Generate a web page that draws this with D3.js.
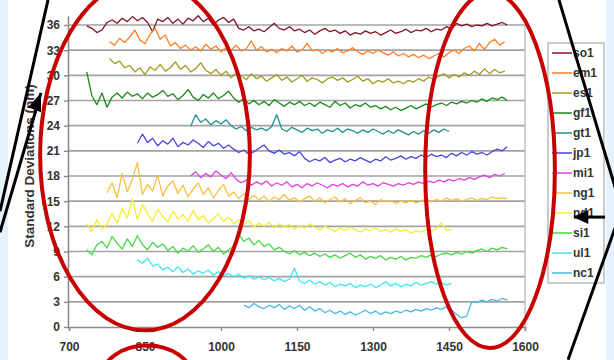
<!DOCTYPE html>
<html>
<head>
<meta charset="utf-8">
<script src="https://cdn.jsdelivr.net/npm/d3@7"></script>
<style>
  body { margin: 0; background: #fff; }
  svg { display: block; font-family: Arial, "Liberation Sans", sans-serif; }
</style>
</head>
<body>
<div id="viz"></div>
<script>
// series names (legend order, top to bottom)
const seriesNames = ["so1", "em1", "es1", "gf1", "gt1", "jp1", "mi1", "ng1", "nd1", "si1", "ul1", "nc1"];
// wavelength (nm) of the first sample of each series, samples every 10 nm
const seriesStart = [735, 780, 780, 735, 940, 835, 940, 775, 735, 735, 835, 1045];
const sampleStep = 10;

const so1 = [35.9,35.6,35.1,35.4,36.3,36.6,36.2,36.8,36.4,37.0,36.5,36.9,36.3,35.2,36.7,
  36.4,36.9,36.2,36.7,36.1,36.8,36.5,37.1,36.4,36.8,36.0,36.6,36.9,36.3,36.7,
  35.6,35.4,35.8,35.3,35.5,35.2,35.7,36.2,35.6,35.4,35.8,35.3,35.5,35.1,35.4,
  34.9,35.3,35.6,35.2,35.4,35.0,35.3,34.8,35.1,34.9,35.3,35.0,35.2,34.8,35.1,
  35.4,35.0,35.2,35.5,35.1,35.4,35.3,35.6,35.2,35.5,35.4,35.8,35.5,36.2,35.9,
  36.1,35.8,36.0,35.9,36.2,35.9,36.1,36.3,36.0];
const em1 = [34.0,33.6,34.4,33.9,34.6,35.4,34.2,33.8,34.9,35.6,34.3,34.8,33.5,33.9,33.2,
  33.6,33.0,33.4,32.9,33.7,33.1,33.5,32.8,33.3,33.0,33.6,32.9,33.2,34.1,33.0,
  33.4,32.8,33.1,32.7,33.2,32.9,33.5,32.8,33.0,33.8,32.9,33.1,32.6,33.0,32.8,
  33.2,32.7,32.9,33.3,32.8,32.5,32.9,32.6,33.0,32.7,32.4,32.8,32.3,32.6,32.2,
  32.5,32.1,32.4,32.0,32.3,32.6,32.2,32.7,33.0,32.6,33.2,33.5,32.9,33.8,33.1,
  33.9,34.3,33.6,34.0];
const es1 = [32.0,31.4,31.7,30.9,31.2,30.4,30.9,30.1,31.0,30.6,31.3,30.5,30.9,31.6,30.7,
  31.2,30.4,30.8,31.5,30.6,30.2,30.7,30.0,30.5,29.7,30.3,29.9,29.5,30.2,29.6,
  29.9,29.3,29.7,30.1,29.4,29.8,29.2,29.6,30.0,29.3,29.7,29.5,29.1,29.6,29.8,
  29.4,29.7,29.2,29.5,29.9,29.3,29.6,29.0,29.4,29.2,29.6,29.1,29.3,29.0,29.4,
  29.2,29.6,29.3,29.8,29.5,29.9,30.2,29.7,30.1,29.8,30.3,30.0,30.5,30.1,30.8,
  30.2,30.7,30.3,30.5];
const gf1 = [30.4,27.6,26.5,27.9,26.2,27.4,27.9,27.3,28.0,27.5,27.8,27.2,27.9,27.4,27.7,
  28.2,27.5,27.8,27.1,27.6,28.3,27.4,27.0,27.7,27.3,27.9,27.2,27.6,28.1,27.3,
  26.8,27.2,26.6,27.0,26.5,26.9,26.4,27.1,26.7,26.3,26.8,26.5,26.9,26.4,26.7,
  26.3,26.8,26.5,26.2,26.9,26.4,26.7,26.1,26.5,26.3,26.7,26.2,26.4,26.0,26.3,
  25.9,26.2,25.8,26.1,26.4,26.0,26.3,26.6,26.2,26.5,26.7,26.4,26.8,26.6,26.9,
  26.7,27.0,26.8,27.2,26.9,27.3,27.1,27.4,27.0];
const gt1 = [23.9,25.3,24.4,24.8,24.1,24.6,24.2,24.7,24.0,23.6,23.9,23.4,23.8,23.5,23.7,
  23.4,23.9,25.3,23.6,23.3,23.8,23.5,23.2,23.7,23.4,23.6,23.1,23.5,23.3,23.7,
  23.2,23.6,23.4,23.1,23.5,23.2,23.6,23.3,23.0,23.4,23.1,23.5,23.2,22.9,23.3,
  23.0,23.4,23.1,23.5,23.2,23.6,23.3];
const jp1 = [21.9,23.0,22.0,22.5,21.6,22.2,21.8,22.5,21.5,22.0,21.7,22.3,21.9,21.4,22.1,
  21.6,21.9,21.3,21.7,21.2,20.8,21.1,20.6,20.9,21.3,21.7,21.0,20.7,21.1,20.6,
  20.8,20.4,20.9,20.1,19.7,20.0,19.8,20.2,19.6,19.9,20.1,19.7,20.0,19.8,20.2,
  19.9,19.6,20.0,19.8,20.3,19.9,20.1,20.4,20.0,20.3,20.1,20.5,20.2,20.6,20.3,
  20.5,20.2,20.7,20.4,20.8,20.5,20.9,20.6,20.8,20.5,20.9,21.2,21.0,21.5];
const mi1 = [18.0,18.5,17.8,18.3,17.9,18.6,18.1,17.7,18.4,17.6,17.2,17.5,16.9,17.3,17.0,
  17.4,16.8,17.2,16.9,17.3,16.7,17.0,16.6,17.1,16.8,17.2,16.9,16.6,17.0,16.8,
  17.1,16.7,17.0,16.8,17.3,16.9,17.1,16.8,17.2,17.0,16.8,17.1,16.9,17.2,17.0,
  17.3,17.1,17.4,17.2,17.5,17.3,17.6,17.4,17.7,17.5,17.8,17.6,17.9,18.1,17.8,
  18.2,18.0,18.3];
const ng1 = [16.0,17.2,15.4,18.3,16.1,17.6,19.6,15.8,17.0,16.2,18.1,15.6,16.8,17.4,15.9,
  16.9,15.5,16.4,17.2,15.8,16.6,15.4,16.3,17.0,15.6,16.1,15.3,15.9,15.2,15.7,
  15.1,15.6,15.0,15.5,15.2,15.8,15.1,15.4,14.9,15.3,15.6,15.0,15.4,14.8,15.2,
  15.5,14.9,15.3,14.7,15.1,15.4,14.8,15.0,14.6,15.2,14.9,15.1,14.7,15.0,14.8,
  15.1,14.8,15.0,15.3,14.9,15.2,15.0,15.4,15.1,15.3,15.0,15.2,15.4,15.1,15.3,
  15.2,15.5,15.3,15.4,15.3];
const nd1 = [12.3,11.4,12.8,11.7,12.2,13.6,12.4,14.1,13.0,15.3,12.8,14.6,13.5,12.6,14.0,
  13.2,12.5,13.8,12.9,13.4,12.6,13.9,12.8,13.3,12.4,12.9,13.5,12.6,13.1,12.3,
  12.8,12.2,12.7,11.9,12.4,12.0,12.5,11.8,12.3,11.9,12.2,11.7,12.1,11.8,12.3,
  11.9,11.6,12.0,11.7,11.4,11.8,11.5,11.9,11.6,11.3,11.7,11.5,11.8,11.4,11.6,
  11.3,11.7,11.4,11.6,11.2,11.5,11.3,11.6,11.4,11.8,12.4,11.5,11.6];
const si1 = [9.2,8.6,9.8,10.2,9.4,10.8,10.0,9.3,10.5,9.6,10.9,9.8,9.2,10.1,9.5,
  9.9,9.1,9.6,8.8,9.4,9.0,9.7,8.9,9.3,9.8,9.0,9.5,8.7,9.2,9.6,
  11.1,10.2,10.6,9.8,10.3,9.6,9.9,9.2,9.5,9.0,8.7,9.1,8.6,8.9,8.5,
  8.8,8.4,8.7,8.3,8.6,8.2,8.5,8.8,8.3,8.6,8.1,8.4,8.2,8.5,8.0,
  8.3,8.1,8.4,8.0,8.3,8.2,8.5,8.3,8.6,8.4,8.7,8.8,8.6,8.9,8.7,
  9.0,8.8,9.1,9.3,9.0,9.4,9.2,9.5,9.3];
const ul1 = [8.0,7.6,8.2,7.3,7.5,6.8,7.1,6.6,7.2,6.5,6.9,6.3,6.7,6.4,6.8,
  6.2,6.6,6.1,6.4,6.0,6.3,5.8,6.1,5.7,6.0,5.6,5.9,5.5,5.8,5.4,
  5.7,7.0,5.5,5.2,5.6,5.1,5.4,5.0,5.3,4.8,5.1,4.9,5.2,4.7,5.0,
  4.8,5.1,4.7,5.0,5.4,4.9,5.2,4.8,5.1,4.9,5.3,5.0,5.2,5.4,5.1,
  5.3,5.0,5.2];
const nc1 = [2.6,2.3,2.8,2.4,2.2,2.6,2.3,2.7,2.1,2.5,2.2,2.6,2.0,2.4,1.9,
  2.2,1.7,2.0,1.6,1.9,1.5,1.8,1.4,1.7,2.0,1.6,1.9,1.5,1.8,1.6,
  1.9,1.7,2.0,1.8,2.1,1.9,2.2,2.0,2.3,2.1,2.4,2.0,1.5,1.1,1.3,
  3.0,2.9,3.2,3.0,3.3,3.1,3.4,3.2];

const seriesValues = [so1, em1, es1, gf1, gt1, jp1, mi1, ng1, nd1, si1, ul1, nc1];
const seriesColors = ["#821428", "#ff7f24", "#a09c1e", "#1a8a1a", "#1f9090", "#4646e0",
                      "#e040e0", "#f6c040", "#f2ee30", "#44d844", "#3fe6f2", "#4ab8e0"];

const xTicks = [700, 850, 1000, 1150, 1300, 1450, 1600];
const yTicks = [0, 3, 6, 9, 12, 15, 18, 21, 24, 27, 30, 33, 36];
const yTitle = "Standard Deviations (nm)";

// slide annotations, in data units (nm, %)
const redEllipses = [
  {cx: 850, cy: 20.5, rx: 207, ry: 20.9},
  {cx: 1531, cy: 18.7, rx: 128, ry: 21.2},
  {cx: 854, cy: -6.0, rx: 89, ry: 3.8}
];
const blackLines = [
  [[658.6, 39.0], [563.8, 13.8]],
  [[644.7, 27.9], [563.8, 11.3]],
  [[1667, 39.0], [1792, 13.8]],
  [[1796, 14.9], [1685, -3.9]],
  [[1758, 13.1], [1697, 13.1]]
];
const blackHeads = [
  {from: [632, 25.9], to: [644.7, 27.9]},
  {from: [1725, 13.1], to: [1695, 13.1]}
];

const W = 614, H = 360;
const svg = d3.select("#viz").append("svg")
  .attr("width", W).attr("height", H);

// slide background bands
svg.append("rect").attr("width", W).attr("height", H).attr("fill", "#e7f3fc");
svg.append("rect").attr("x", 8).attr("width", 598).attr("height", H).attr("fill", "#fff");

const x = d3.scaleLinear().domain([700, 1600]).range([69, 525]);
const y = d3.scaleLinear().domain([0, 36]).range([327, 25]);

// gridlines
svg.append("g").selectAll("line")
  .data(yTicks.filter(d => d > 0))
  .join("line")
    .attr("x1", x(700)).attr("x2", x(1600))
    .attr("y1", d => y(d)).attr("y2", d => y(d))
    .attr("stroke", "#a3a3a3").attr("stroke-width", 1.6);

// right border of plot area
svg.append("line")
  .attr("x1", x(1600)).attr("x2", x(1600))
  .attr("y1", y(36)).attr("y2", y(0))
  .attr("stroke", "#b0b0b0").attr("stroke-width", 1.2);

// series
const line = d3.line()
  .x(d => x(d[0]))
  .y(d => y(d[1]));

seriesNames.forEach((name, k) => {
  const pts = seriesValues[k].map((v, i) => [seriesStart[k] + i * sampleStep, v]);
  svg.append("path")
    .datum(pts)
    .attr("fill", "none")
    .attr("stroke", seriesColors[k])
    .attr("stroke-width", 1.3)
    .attr("stroke-linejoin", "round")
    .attr("d", line);
});

// axes
const yAxis = svg.append("g")
  .attr("transform", "translate(" + x(700) + ",0)")
  .call(d3.axisLeft(y).tickValues(yTicks).tickSize(5).tickPadding(4));
yAxis.select(".domain").attr("d", "M-0.5," + y(37) + "V" + y(0));
const xAxis = svg.append("g")
  .attr("transform", "translate(0," + y(0) + ")")
  .call(d3.axisBottom(x).tickValues(xTicks).tickSize(4).tickPadding(11).tickFormat(d3.format("d")));
[yAxis, xAxis].forEach(a => {
  a.selectAll(".domain").attr("stroke", "#8a8a8a").attr("stroke-width", 1.6);
  a.selectAll(".tick line").attr("stroke", "#8a8a8a").attr("stroke-width", 1.4);
  a.selectAll("text")
    .attr("font-family", "Arial, 'Liberation Sans', sans-serif")
    .attr("font-size", 12).attr("font-weight", "bold").attr("fill", "#333");
});

svg.append("text")
  .attr("transform", "translate(34,166) rotate(-90)")
  .attr("text-anchor", "middle")
  .attr("font-size", 13.5).attr("font-weight", "bold").attr("fill", "#333")
  .text(yTitle);

// legend
const legend = svg.append("g").attr("transform", "translate(548,43)");
legend.append("rect")
  .attr("width", 56).attr("height", 240)
  .attr("fill", "#fff").attr("stroke", "#a8a8a8").attr("stroke-width", 1.2);
const item = legend.selectAll("g.item")
  .data(seriesNames)
  .join("g").attr("class", "item")
  .attr("transform", (d, i) => "translate(0," + (10 + i * 20) + ")");
item.append("line")
  .attr("x1", 4).attr("x2", 24)
  .attr("stroke", (d, i) => seriesColors[i]).attr("stroke-width", 1.5);
item.append("text")
  .attr("x", 25).attr("dy", "0.35em")
  .attr("font-size", 12).attr("font-weight", "bold").attr("fill", "#333")
  .text(d => d);

// annotations
const ann = svg.append("g");
ann.selectAll("ellipse")
  .data(redEllipses)
  .join("ellipse")
    .attr("cx", d => x(d.cx)).attr("cy", d => y(d.cy))
    .attr("rx", d => x(d.cx + d.rx) - x(d.cx))
    .attr("ry", d => y(d.cy - d.ry) - y(d.cy))
    .attr("fill", "none").attr("stroke", "#c80000").attr("stroke-width", 4);
ann.selectAll("line")
  .data(blackLines)
  .join("line")
    .attr("x1", d => x(d[0][0])).attr("y1", d => y(d[0][1]))
    .attr("x2", d => x(d[1][0])).attr("y2", d => y(d[1][1]))
    .attr("stroke", "#000").attr("stroke-width", 3);
ann.selectAll("path.head")
  .data(blackHeads)
  .join("path").attr("class", "head")
    .attr("fill", "#000")
    .attr("d", d => {
      const x0 = x(d.from[0]), y0 = y(d.from[1]), x1 = x(d.to[0]), y1 = y(d.to[1]);
      const dx = x1 - x0, dy = y1 - y0, len = Math.hypot(dx, dy);
      const ux = dx / len, uy = dy / len, w = 7;
      return "M" + x1 + "," + y1 +
        "L" + (x0 - uy * w) + "," + (y0 + ux * w) +
        "L" + (x0 + uy * w) + "," + (y0 - ux * w) + "Z";
    });
</script>
</body>
</html>
